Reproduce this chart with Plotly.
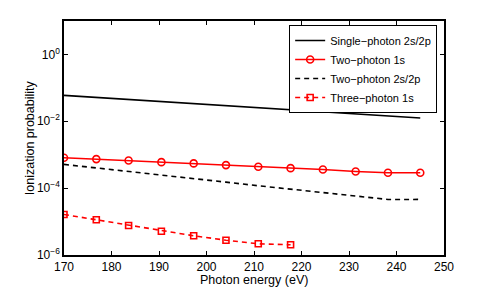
import plotly.graph_objects as go

energy = [170, 176.8, 183.6, 190.5, 197.3, 204.1, 210.9, 217.7, 224.5, 231.4, 238.2, 245]
single_2s2p = [0.0596, 0.0517, 0.0449, 0.0388, 0.0337, 0.0292, 0.0254, 0.0220, 0.0191, 0.0166, 0.0144, 0.0125]
two_1s = [8.13e-4, 7.38e-4, 6.74e-4, 6.0e-4, 5.5e-4, 4.89e-4, 4.37e-4, 3.97e-4, 3.63e-4, 3.16e-4, 2.89e-4, 2.89e-4]
two_2s2p = [5.13e-4, 4.06e-4, 3.16e-4, 2.47e-4, 1.92e-4, 1.51e-4, 1.18e-4, 9.27e-5, 7.23e-5, 5.63e-5, 4.59e-5, 4.6e-5]
energy_three = [170, 176.8, 183.6, 190.5, 197.3, 204.1, 210.9, 217.7]
three_1s = [1.63e-5, 1.13e-5, 7.64e-6, 5.16e-6, 3.76e-6, 2.77e-6, 2.16e-6, 2.02e-6]

x_ticks = [170, 180, 190, 200, 210, 220, 230, 240, 250]
y_ticks = [1e-6, 1e-4, 1e-2, 1e0]
y_ticktext = ["10<sup>\u22126</sup>", "10<sup>\u22124</sup>", "10<sup>\u22122</sup>", "10<sup>0</sup>"]
x_title = "Photon energy (eV)"
y_title = "Ionization probability"

RED = "#ff0000"
fig = go.Figure()
fig.add_trace(go.Scatter(x=energy, y=single_2s2p, mode="lines", name="Single\u2212photon 2s/2p",
                         line=dict(color="black", width=1.6)))
fig.add_trace(go.Scatter(x=energy, y=two_1s, mode="lines+markers", name="Two\u2212photon 1s",
                         line=dict(color=RED, width=1.6),
                         marker=dict(symbol="circle-open", size=7, color=RED, line=dict(width=1.6))))
fig.add_trace(go.Scatter(x=energy, y=two_2s2p, mode="lines", name="Two\u2212photon 2s/2p",
                         line=dict(color="black", width=1.6, dash="5px,4px")))
fig.add_trace(go.Scatter(x=energy_three, y=three_1s, mode="lines+markers", name="Three\u2212photon 1s",
                         line=dict(color=RED, width=1.6, dash="5px,4px"),
                         marker=dict(symbol="square-open", size=6, color=RED, line=dict(width=1.6))))

font = "Liberation Sans, Arial, sans-serif"
fig.update_layout(
    width=491, height=288,
    margin=dict(l=64, r=47, t=21, b=33),
    paper_bgcolor="white", plot_bgcolor="white",
    font=dict(family=font, size=12, color="black"),
    showlegend=True,
    legend=dict(x=0.982, y=0.983, xanchor="right", yanchor="top",
                bgcolor="white", bordercolor="black", borderwidth=1,
                font=dict(size=11), itemwidth=30, tracegroupgap=0,
                traceorder="normal"),
    xaxis=dict(range=[170, 250], tickvals=x_ticks, ticks="inside", ticklen=4,
               tickcolor="black", tickwidth=1.2,
               showline=True, linecolor="black", linewidth=1.5, mirror="ticks",
               showgrid=False, zeroline=False),
    yaxis=dict(type="log", range=[-6, 1], tickvals=y_ticks, ticktext=y_ticktext,
               ticks="inside", ticklen=4, tickcolor="black", tickwidth=1.2,
               showline=True, linecolor="black", linewidth=1.5, mirror="ticks",
               showgrid=False, zeroline=False),
    annotations=[
        dict(text=x_title, xref="paper", yref="paper", x=0.5, y=-0.106,
             xanchor="center", yanchor="middle", showarrow=False, font=dict(size=12.5)),
        dict(text=y_title, xref="paper", yref="paper", x=-0.089, y=0.5,
             xanchor="center", yanchor="middle", showarrow=False, textangle=-90,
             font=dict(size=12.5)),
    ],
)
fig.write_html("out.html", config={"displayModeBar": False},
               post_script="document.body.style.margin='0px';")
